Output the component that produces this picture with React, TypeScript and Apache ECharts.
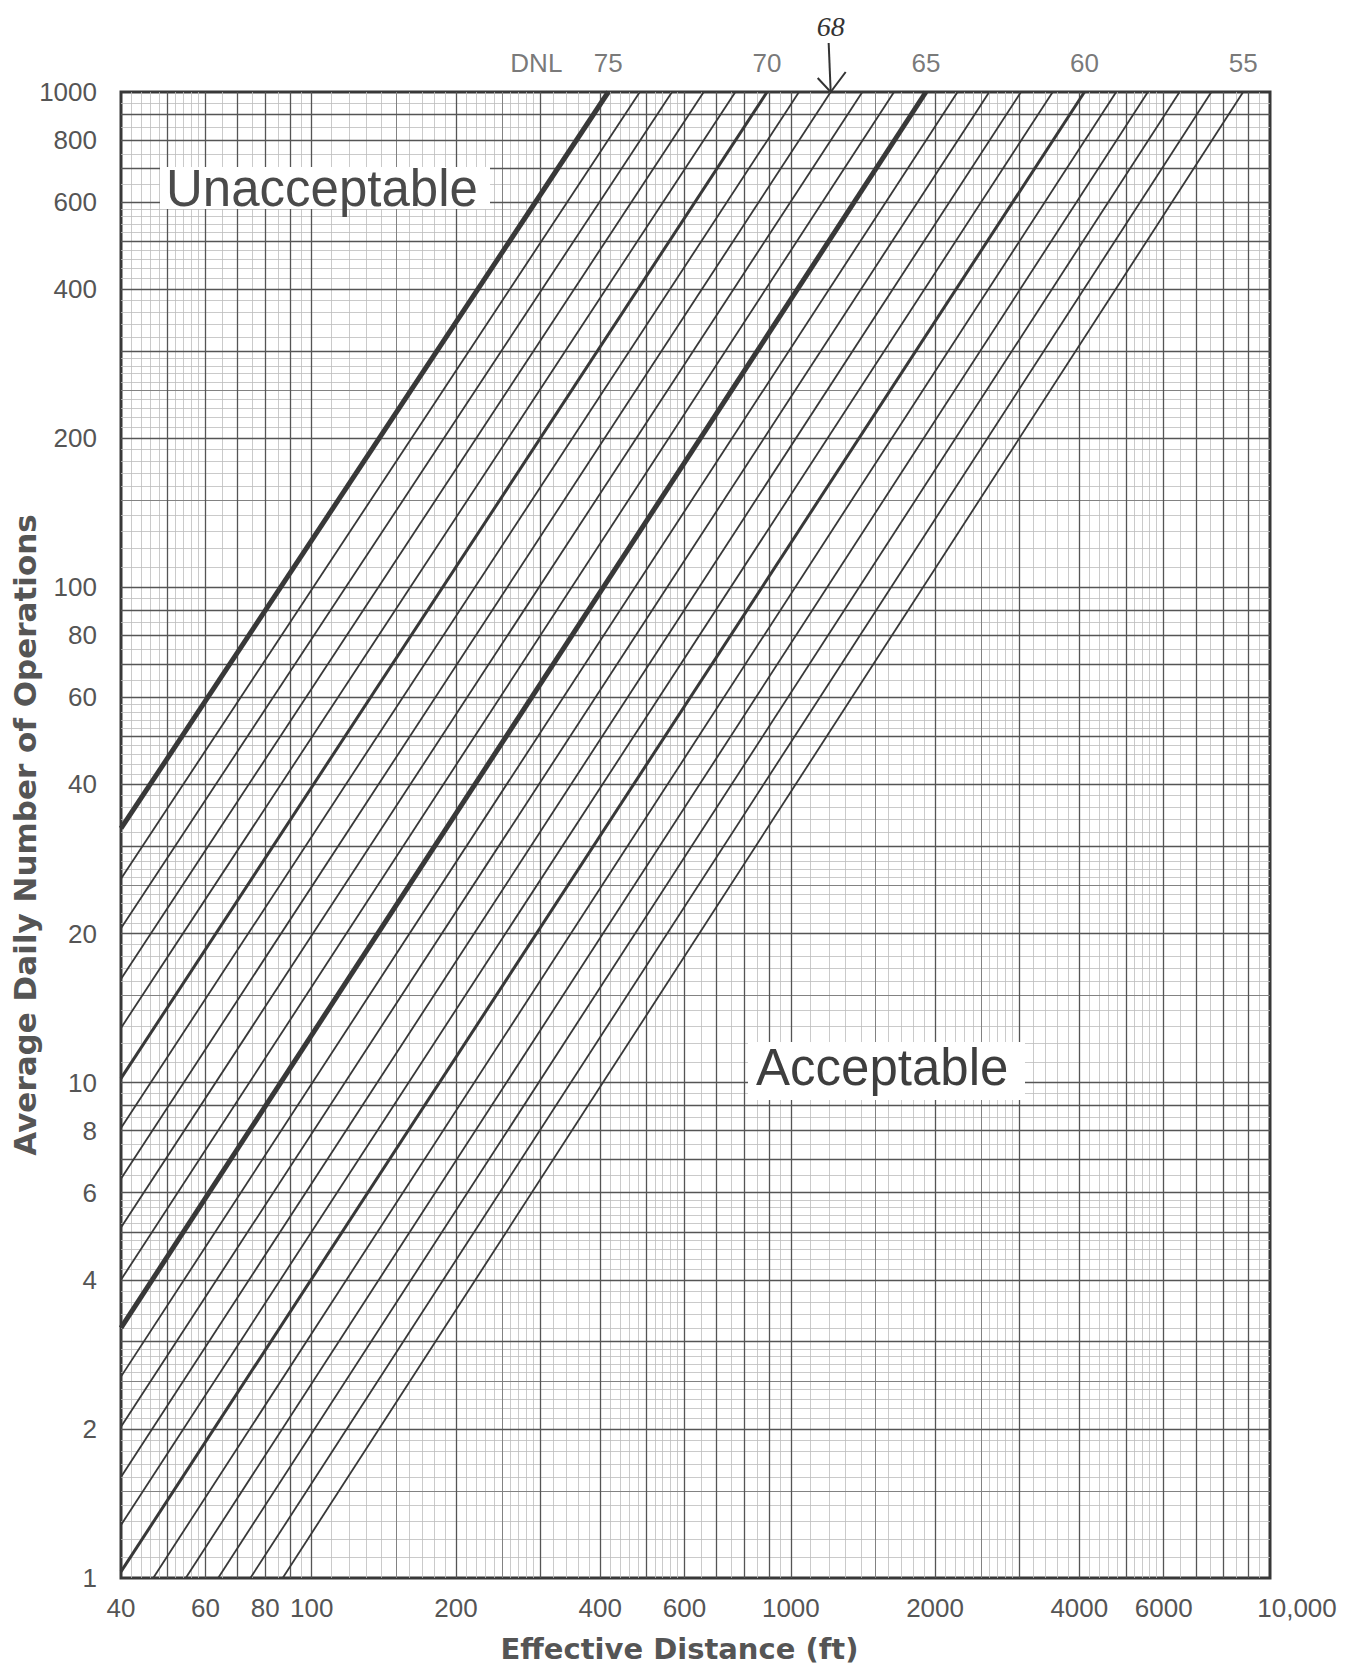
import React, { useEffect, useRef } from "react";
import * as echarts from "echarts";

// ---- data ----
const dnlLevels = [75, 74, 73, 72, 71, 70, 69, 68, 67, 66, 65, 64, 63, 62, 61, 60, 59, 58, 57, 56, 55];
// start point of each DNL line (left edge at 40 ft, or bottom edge at 1 operation)
const startDistance = [40, 40, 40, 40, 40, 40, 40, 40, 40, 40, 40, 40, 40, 40, 40, 40, 46.7, 54.6, 63.8, 74.5, 87];
const startOperations = [32.6, 25.8, 20.5, 16.2, 12.9, 10.2, 8.1, 6.4, 5.1, 4.0, 3.2, 2.55, 2.02, 1.6, 1.28, 1.03, 1, 1, 1, 1, 1];
// end point of each DNL line (top edge, 1000 operations)
const endDistance = [416, 484, 565, 658, 766, 892, 1040, 1211, 1410, 1642, 1914, 2228, 2595, 3022, 3520, 4100, 4775, 5560, 6475, 7545, 8790];
const endOperations = [1000, 1000, 1000, 1000, 1000, 1000, 1000, 1000, 1000, 1000, 1000, 1000, 1000, 1000, 1000, 1000, 1000, 1000, 1000, 1000, 1000];
const thickLevels = [75, 65];
const mediumLevels = [70, 60];
const labeledLevels = [75, 70, 65, 60, 55];
const handNoteLevel = 68;

const xTickLabels = [40, 60, 80, 100, 200, 400, 600, 1000, 2000, 4000, 6000, 10000];
const yTickLabels = [1, 2, 4, 6, 8, 10, 20, 40, 60, 80, 100, 200, 400, 600, 800, 1000];

// log-paper rulings (mantissas within each decade)
const gridMajorMantissas = [1, 2, 3, 4, 5, 6, 7, 8, 9];
const gridMediumMantissas = [1.5, 2.5];
const gridFineMantissas = [
  1.1, 1.2, 1.3, 1.4, 1.6, 1.7, 1.8, 1.9,
  2.1, 2.2, 2.3, 2.4, 2.6, 2.7, 2.8, 2.9,
  3.2, 3.4, 3.6, 3.8, 4.2, 4.4, 4.6, 4.8,
  5.2, 5.4, 5.6, 5.8, 6.5, 7.5, 8.5, 9.5,
];
const xDecades = [10, 100, 1000, 10000];
const yDecades = [1, 10, 100, 1000];

const X_MIN = 40, X_MAX = 10000, Y_MIN = 1, Y_MAX = 1000;

function rulings(mantissas: number[], decades: number[], lo: number, hi: number) {
  const out: number[] = [];
  decades.forEach((d) => mantissas.forEach((m) => {
    const v = +(m * d).toPrecision(6);
    if (v > lo * 1.0001 && v < hi * 0.9999) out.push(v);
  }));
  return out;
}

const TICK_FONT = "'Liberation Sans', Arial, sans-serif";
const TITLE_FONT = "'DejaVu Sans', Verdana, sans-serif";

export default function App() {
  const ref = useRef<HTMLDivElement>(null);
  useEffect(() => {
    if (!ref.current) return;
    const chart = echarts.init(ref.current, undefined, { renderer: "svg" });

    const gridSeries = (name: string, mant: number[], color: string, width: number, z: number) => ({
      type: "line",
      name,
      data: [],
      silent: true,
      z,
      markLine: {
        silent: true,
        symbol: ["none", "none"],
        label: { show: false },
        animation: false,
        lineStyle: { color, width, type: "solid" },
        data: [
          ...rulings(mant, xDecades, X_MIN, X_MAX).map((v) => ({ xAxis: v })),
          ...rulings(mant, yDecades, Y_MIN, Y_MAX).map((v) => ({ yAxis: v })),
        ],
      },
    });

    const dnlSeries = dnlLevels.map((L, i) => ({
      type: "line",
      name: "DNL " + L,
      data: [
        [startDistance[i], startOperations[i]],
        [endDistance[i], endOperations[i]],
      ],
      symbol: "none",
      silent: true,
      z: 5,
      lineStyle: {
        color: "#383838",
        width: thickLevels.includes(L) ? 5 : mediumLevels.includes(L) ? 3 : 1.8,
      },
    }));

    const labelData: any[] = labeledLevels.map((L) => {
      const i = dnlLevels.indexOf(L);
      return { value: [endDistance[i], endOperations[i]], label: { formatter: String(L) } };
    });
    labelData.push({
      value: [endDistance[0], endOperations[0]],
      label: { formatter: "DNL", offset: [-72, 0] },
    });

    const option: any = {
      animation: false,
      backgroundColor: "#ffffff",
      grid: {
        left: 121, right: 88, top: 92, bottom: 95,
        show: true, borderColor: "#383838", borderWidth: 3, backgroundColor: "transparent",
        containLabel: false,
        outerBoundsMode: "none",
      },
      xAxis: {
        type: "log", logBase: 10, min: X_MIN, max: X_MAX,
        axisLine: { show: false }, axisTick: { show: false }, splitLine: { show: false },
        axisLabel: {
          customValues: xTickLabels,
          margin: 17,
          color: "#555", fontSize: 26, fontFamily: TICK_FONT,
          formatter: (v: number) => {
            const r = Math.round(v);
            return r === 10000 ? "{m|10,000}" : String(r);
          },
          rich: { m: { padding: [0, 0, 0, 54], color: "#555", fontSize: 26, fontFamily: TICK_FONT } },
        },
        name: "Effective Distance (ft)",
        nameLocation: "middle",
        nameGap: 56,
        nameMoveOverlap: false,
        nameTextStyle: { fontFamily: TITLE_FONT, fontWeight: "bold", fontSize: 29, color: "#555", padding: [0, 32, 0, 0] },
      },
      yAxis: {
        type: "log", logBase: 10, min: Y_MIN, max: Y_MAX,
        axisLine: { show: false }, axisTick: { show: false }, splitLine: { show: false },
        axisLabel: {
          customValues: yTickLabels,
          margin: 24,
          color: "#555", fontSize: 26, fontFamily: TICK_FONT,
          formatter: (v: number) => String(Math.round(v)),
        },
        name: "Average Daily Number of Operations",
        nameLocation: "middle",
        nameGap: 81,
        nameMoveOverlap: false,
        nameTextStyle: { fontFamily: TITLE_FONT, fontWeight: "bold", fontSize: 31, color: "#555" },
      },
      series: [
        gridSeries("fine", gridFineMantissas, "#bcbcbc", 0.8, 1),
        gridSeries("medium", gridMediumMantissas, "#828282", 1, 2),
        gridSeries("major", gridMajorMantissas, "#555555", 1.3, 3),
        ...dnlSeries,
        {
          type: "scatter",
          name: "labels",
          data: labelData,
          symbolSize: 0,
          silent: true,
          clip: false,
          z: 10,
          label: {
            show: true, position: "top", distance: 16,
            color: "#555", fontSize: 26, fontFamily: TICK_FONT,
          },
        },
      ],
    };
    chart.setOption(option);

    const hi = dnlLevels.indexOf(handNoteLevel);
    const [ax, ay] = chart.convertToPixel({ gridIndex: 0 }, [endDistance[hi], endOperations[hi]]) as number[];
    chart.setOption({
      graphic: [
        // Unacceptable label box
        { type: "rect", z: 100, shape: { x: 160, y: 167, width: 330, height: 42 }, style: { fill: "#fff" } },
        {
          type: "text", z: 101, x: 166, y: 188,
          style: { text: "Unacceptable", fill: "#4a4a4a", fontSize: 51, fontFamily: TICK_FONT, verticalAlign: "middle", align: "left" },
        },
        // Acceptable label box
        { type: "rect", z: 100, shape: { x: 748, y: 1042, width: 277, height: 58 }, style: { fill: "#fff" } },
        {
          type: "text", z: 101, x: 756, y: 1067,
          style: { text: "Acceptable", fill: "#3e3e3e", fontSize: 51, fontFamily: TICK_FONT, verticalAlign: "middle", align: "left" },
        },
        // handwritten note
        {
          type: "text", z: 101, x: ax, y: 26,
          style: { text: "68", fill: "#333", fontSize: 28, fontFamily: "'Liberation Serif', serif", fontStyle: "italic", align: "center", verticalAlign: "middle" },
        },
        { type: "line", z: 101, shape: { x1: ax - 2, y1: 43, x2: ax, y2: ay }, style: { stroke: "#333", lineWidth: 2 } },
        {
          type: "polyline", z: 101,
          shape: { points: [[ax - 13, ay - 14], [ax, ay], [ax + 15, ay - 20]] },
          style: { stroke: "#333", lineWidth: 2, fill: "none" },
        },
      ],
    });

    return () => chart.dispose();
  }, []);

  return (
    <div
      ref={ref}
      style={{ position: "absolute", left: 0, top: 0, width: 1358, height: 1673, background: "#fff" }}
    />
  );
}
